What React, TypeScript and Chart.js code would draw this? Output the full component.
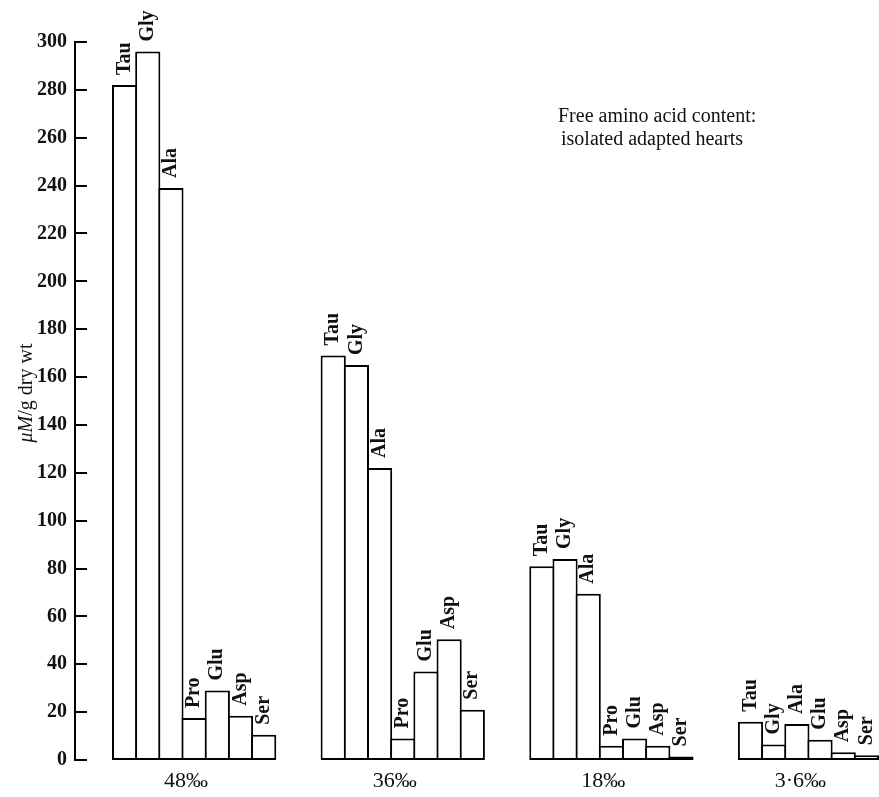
import React, { useEffect, useRef } from "react";
import { Chart, registerables } from "chart.js";

Chart.register(...registerables);

// ---- data ----
const groupLabels = ["48‰", "36‰", "18‰", "3·6‰"];

const acids48 = ["Tau", "Gly", "Ala", "Pro", "Glu", "Asp", "Ser"];
const values48 = [282, 296, 239, 17.5, 29, 18.5, 10.5];

const acids36 = ["Tau", "Gly", "Ala", "Pro", "Glu", "Asp", "Ser"];
const values36 = [169, 165, 122, 9, 37, 50.5, 21];

const acids18 = ["Tau", "Gly", "Ala", "Pro", "Glu", "Asp", "Ser"];
const values18 = [81, 84, 69.5, 6, 9, 6, 1.5];

const acids3_6 = ["Tau", "Gly", "Ala", "Glu", "Asp", "Ser"];
const values3_6 = [16, 6.5, 15, 8.5, 3.2, 2];

const yTicks = { min: 0, max: 300, step: 20 };
const yTitleItalic = "μM";
const yTitleRest = "/g dry wt";
const noteLines = ["Free amino acid content:", "isolated adapted hearts"];

const groupAcids = [acids48, acids36, acids18, acids3_6];
const groupValues = [values48, values36, values18, values3_6];
const SLOTS_PER_GROUP = 9;

const FONT = '"Liberation Serif", "Times New Roman", serif';

export default function App() {
  const ref = useRef<HTMLCanvasElement>(null);

  useEffect(() => {
    if (!ref.current) return;
    const points: { x: number; y: number }[] = [];
    const barNames: string[] = [];
    groupValues.forEach((vals, gi) =>
      vals.forEach((v, i) => {
        points.push({ x: gi * SLOTS_PER_GROUP + i, y: v });
        barNames.push(groupAcids[gi][i]);
      })
    );
    const groupTickPos = groupValues.map(
      (vals, gi) => gi * SLOTS_PER_GROUP + (vals.length - 1) / 2 - 0.35
    );

    const innerTicks = {
      id: "innerTicks",
      afterDraw(chart: any) {
        const y = chart.scales.y;
        const ctx = chart.ctx;
        ctx.save();
        ctx.strokeStyle = "#000";
        ctx.lineWidth = 2;
        ctx.beginPath();
        y.ticks.forEach((t: any) => {
          const py = Math.round(y.getPixelForValue(t.value));
          ctx.moveTo(y.right, py);
          ctx.lineTo(y.right + 12, py);
        });
        ctx.stroke();
        ctx.restore();
      },
    };

    const barLabels = {
      id: "barLabels",
      afterDatasetsDraw(chart: any) {
        const meta = chart.getDatasetMeta(0);
        const ctx = chart.ctx;
        ctx.save();
        ctx.font = `bold 20px ${FONT}`;
        ctx.fillStyle = "#111";
        ctx.textAlign = "left";
        ctx.textBaseline = "middle";
        meta.data.forEach((bar: any, i: number) => {
          ctx.save();
          ctx.translate(bar.x, bar.y - 10);
          ctx.rotate(-Math.PI / 2);
          ctx.fillText(barNames[i], 0, 0);
          ctx.restore();
        });
        ctx.restore();
      },
    };

    const yTitle = {
      id: "yTitle",
      afterDraw(chart: any) {
        const ctx = chart.ctx;
        const area = chart.chartArea;
        ctx.save();
        const fi = `italic 20px ${FONT}`;
        const fn = `20px ${FONT}`;
        ctx.font = fi;
        const w1 = ctx.measureText(yTitleItalic).width;
        ctx.font = fn;
        const w2 = ctx.measureText(yTitleRest).width;
        const total = w1 + w2;
        ctx.translate(32, (area.top + area.bottom) / 2 - 8);
        ctx.rotate(-Math.PI / 2);
        ctx.fillStyle = "#111";
        ctx.textBaseline = "alphabetic";
        ctx.textAlign = "left";
        ctx.font = fi;
        ctx.fillText(yTitleItalic, -total / 2, 0);
        ctx.font = fn;
        ctx.fillText(yTitleRest, -total / 2 + w1, 0);
        ctx.restore();
      },
    };

    const note = {
      id: "note",
      afterDraw(chart: any) {
        const ctx = chart.ctx;
        ctx.save();
        ctx.font = `20px ${FONT}`;
        ctx.fillStyle = "#111";
        ctx.textAlign = "left";
        ctx.textBaseline = "alphabetic";
        ctx.fillText(noteLines[0], 558, 122);
        ctx.fillText(noteLines[1], 561, 145);
        ctx.restore();
      },
    };

    const chart = new Chart(ref.current, {
      type: "bar",
      data: {
        datasets: [
          {
            data: points as any,
            backgroundColor: "#fff",
            borderColor: "#000",
            borderWidth: 2,
            borderSkipped: false,
            barPercentage: 1.086,
            categoryPercentage: 1,
          } as any,
        ],
      },
      options: {
        responsive: false,
        animation: false,
        layout: { padding: { top: 42, right: 0, bottom: 0, left: 0 } },
        plugins: {
          legend: { display: false },
          tooltip: { enabled: false },
        },
        scales: {
          x: {
            type: "linear",
            offset: false,
            min: -2.139,
            max: 32.543,
            grid: { display: false, drawTicks: false, offset: false },
            border: { display: false },
            afterBuildTicks: (s: any) => {
              s.ticks = groupTickPos.map((v) => ({ value: v }));
            },
            afterFit: (s: any) => {
              s.height = 37;
            },
            ticks: {
              autoSkip: false,
              maxRotation: 0,
              minRotation: 0,
              padding: 8,
              color: "#111",
              font: { family: FONT, size: 22 },
              callback: (_v: any, i: number) => groupLabels[i],
            },
          },
          y: {
            min: yTicks.min,
            max: yTicks.max,
            afterFit: (s: any) => {
              s.width = 75;
            },
            grid: { display: false, drawTicks: false },
            border: { display: true, color: "#000", width: 2 },
            ticks: {
              stepSize: yTicks.step,
              padding: 8,
              color: "#111",
              font: { family: FONT, size: 20, weight: "bold" },
            },
          },
        },
      } as any,
      plugins: [innerTicks, barLabels, yTitle, note],
    });
    return () => chart.destroy();
  }, []);

  return (
    <div
      style={{
        position: "fixed",
        left: 0,
        top: 0,
        width: 879,
        height: 797,
        background: "#fff",
      }}
    >
      <canvas ref={ref} width={879} height={797} style={{ display: "block" }} />
    </div>
  );
}
